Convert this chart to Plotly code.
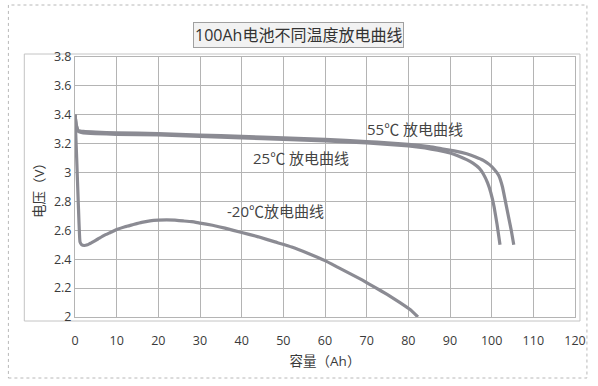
import plotly.graph_objects as go

# ---- data ----
cap_25 = [0, 0.3, 0.8, 2, 5, 10, 20, 30, 40, 50, 60, 70, 75, 80, 84, 87, 90, 92, 94, 95.5, 97, 98, 99, 99.8, 100.6, 101.3, 102]
volt_25 = [3.40, 3.33, 3.285, 3.275, 3.27, 3.265, 3.26, 3.25, 3.24, 3.23, 3.22, 3.205, 3.195, 3.185, 3.17, 3.155, 3.135, 3.115, 3.09, 3.065, 3.03, 2.99, 2.93, 2.86, 2.76, 2.64, 2.50]

cap_55 = [0, 0.3, 0.8, 2, 5, 10, 20, 30, 40, 50, 60, 70, 75, 80, 85, 88, 91, 94, 96, 98, 99.5, 100.7, 101.7, 102.6, 103.3, 104.0, 104.7, 105.3]
volt_55 = [3.40, 3.33, 3.29, 3.285, 3.28, 3.275, 3.27, 3.26, 3.25, 3.24, 3.23, 3.215, 3.205, 3.195, 3.18, 3.165, 3.15, 3.13, 3.11, 3.085, 3.055, 3.02, 2.98, 2.90, 2.80, 2.70, 2.60, 2.50]

cap_m20 = [0, 0.4, 0.8, 1.2, 1.6, 2.2, 3, 4, 5.5, 7, 8.5, 10, 12, 14, 16, 18, 20, 22, 24, 26, 28, 30, 33, 36, 40, 44, 48, 52, 56, 60, 63, 66, 69, 72, 75, 78, 80.5, 82.3]
volt_m20 = [3.40, 3.10, 2.78, 2.52, 2.50, 2.495, 2.50, 2.515, 2.54, 2.565, 2.585, 2.605, 2.625, 2.64, 2.655, 2.665, 2.67, 2.672, 2.67, 2.665, 2.66, 2.65, 2.635, 2.615, 2.585, 2.555, 2.52, 2.485, 2.44, 2.39, 2.345, 2.30, 2.255, 2.205, 2.155, 2.10, 2.05, 2.0]

x_ticks = [0, 10, 20, 30, 40, 50, 60, 70, 80, 90, 100, 110, 120]
y_ticks = [2.0, 2.2, 2.4, 2.6, 2.8, 3.0, 3.2, 3.4, 3.6, 3.8]
y_tick_text = ["2", "2.2", "2.4", "2.6", "2.8", "3", "3.2", "3.4", "3.6", "3.8"]

title_text = "100Ah电池不同温度放电曲线"
x_title = "容量（Ah）"
y_title = "电压（V）"
label_55 = "55℃ 放电曲线"
label_25 = "25℃ 放电曲线"
label_m20 = "-20℃放电曲线"

FONT = "Open Sans, Noto Sans CJK SC"
LINE = "#8b8b93"

fig = go.Figure()
for xs, ys in [(cap_m20, volt_m20), (cap_25, volt_25), (cap_55, volt_55)]:
    fig.add_trace(go.Scatter(x=xs, y=ys, mode="lines",
                             line=dict(color=LINE, width=3.2, shape="spline", smoothing=0.3),
                             showlegend=False, hoverinfo="skip"))

# plot area: x 75..578 px, y 57..317 px
W, H = 598, 386
L, R, T, B = 75, 20, 57, 69
pw, ph = W - L - R, H - T - B


def px(x):
    return (x - L) / pw


def py(y):
    return (H - B - y) / ph


fig.update_layout(
    width=W, height=H,
    margin=dict(l=L, r=R, t=T, b=B),
    paper_bgcolor="white", plot_bgcolor="white",
    font=dict(family=FONT, color="#3a3a3a", size=12),
    xaxis=dict(range=[0, 120], tickvals=x_ticks, showgrid=True, gridcolor="#b4b4b4", gridwidth=1,
               zeroline=False, showline=True, linecolor="#b4b4b4", mirror=True,
               ticks="", ticklabelstandoff=12, tickfont=dict(size=12.5, color="#3a3a3a"),
               title=dict(text=x_title, standoff=8, font=dict(size=13.5, color="#3a3a3a"))),
    yaxis=dict(range=[2, 3.8], tickvals=y_ticks, ticktext=y_tick_text, showgrid=True, gridcolor="#b4b4b4",
               gridwidth=1, zeroline=False, showline=True, linecolor="#b4b4b4", mirror=True,
               ticks="", tickfont=dict(size=12.5, color="#3a3a3a"),
               title=dict(text=y_title, standoff=6, font=dict(size=13.5, color="#3a3a3a"))),
    shapes=[
        dict(type="rect", xref="paper", yref="paper", x0=px(8), x1=px(590), y0=py(378), y1=py(5),
             line=dict(color="#b8b8b8", width=1, dash="dot"), layer="below"),
        dict(type="rect", xref="paper", yref="paper", x0=px(24), x1=px(583), y0=py(321), y1=py(54),
             line=dict(color="#c4c4c4", width=1), layer="below"),
    ],
    annotations=[
        dict(text=title_text, xref="paper", yref="paper", x=px(300), y=py(22), showarrow=False,
             font=dict(size=16, color="#333"), bgcolor="#f2f2f2", bordercolor="#a0a0a0", borderwidth=1, borderpad=1),
        dict(text=label_55, x=81.5, y=3.30, xref="x", yref="y", showarrow=False, font=dict(size=15, color="#444")),
        dict(text=label_25, x=54.3, y=3.098, xref="x", yref="y", showarrow=False, font=dict(size=15, color="#444")),
        dict(text=label_m20, x=48.1, y=2.736, xref="x", yref="y", showarrow=False, font=dict(size=15, color="#444")),
    ],
)

fig.write_html("out.html")
